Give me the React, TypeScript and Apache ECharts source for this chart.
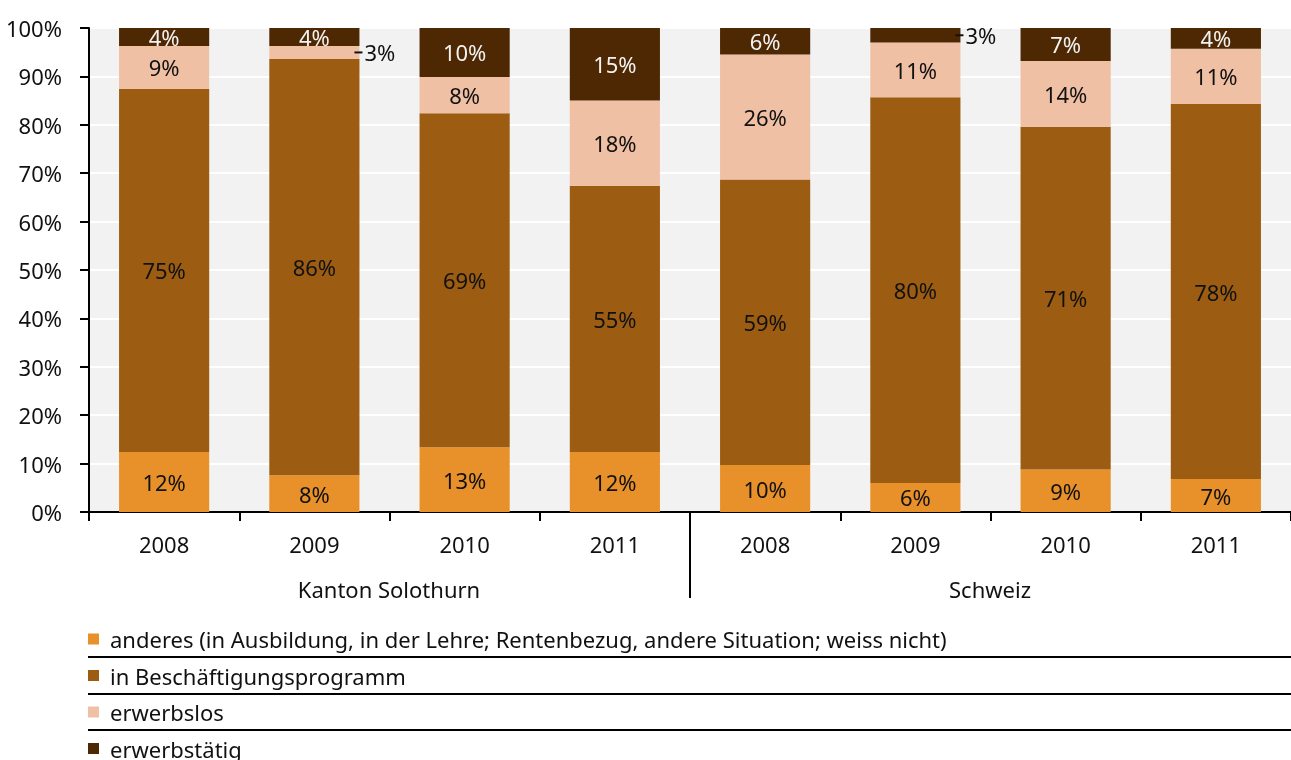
import React, { useEffect, useRef } from "react";
import * as echarts from "echarts";

const categories = ["2008", "2009", "2010", "2011", "2008", "2009", "2010", "2011"];
const groups = ["Kanton Solothurn", "Schweiz"];
const seriesNames = [
  "anderes (in Ausbildung, in der Lehre; Rentenbezug, andere Situation; weiss nicht)",
  "in Beschäftigungsprogramm",
  "erwerbslos",
  "erwerbstätig",
];
const anderes = [12.4, 7.6, 13.4, 12.4, 9.7, 6.0, 8.8, 6.8];
const beschaeftigung = [75.0, 86.0, 69.0, 55.0, 59.0, 79.7, 70.8, 77.5];
const erwerbslos = [8.9, 2.7, 7.5, 17.6, 25.8, 11.3, 13.6, 11.4];
const erwerbstaetig = [3.7, 3.7, 10.1, 15.0, 5.5, 3.0, 6.8, 4.3];
const colors = ["#E8912A", "#9C5D13", "#F0C0A5", "#4E2803"];
const labelColors = ["#111111", "#111111", "#111111", "#F2F2F2"];

const FONT = "Noto Sans";
const FS = 22;

export default function App() {
  const ref = useRef<HTMLDivElement>(null);
  useEffect(() => {
    if (!ref.current) return;
    const chart = echarts.init(ref.current, null, { renderer: "svg" });
    const allValues = [anderes, beschaeftigung, erwerbslos, erwerbstaetig];
    const series = allValues.map((vals, si) => ({
      name: seriesNames[si],
      type: "bar",
      stack: "total",
      barCategoryGap: "40%",
      itemStyle: { color: colors[si] },
      label: {
        show: true,
        position: "inside",
        color: labelColors[si],
        fontFamily: FONT,
        fontSize: FS,
        formatter: (p: any) => Math.round(p.value) + "%",
      },
      data: vals.map((v) =>
        v < 3.2
          ? {
              value: v,
              label: {
                position: "right",
                distance: -5,
                color: "#111111",
                formatter: (p: any) => "{d|}{t|" + Math.round(p.value) + "%}",
                rich: {
                  d: { width: 8, height: 2, backgroundColor: "#111111" },
                  t: { fontFamily: FONT, fontSize: FS, color: "#111111", padding: [0, 0, 0, 2] },
                },
              },
            }
          : v
      ),
    }));
    chart.setOption({
      animation: false,
      color: colors,
      grid: {
        left: 89,
        right: 0,
        top: 28,
        bottom: 248,
        show: true,
        backgroundColor: "#F2F2F2",
        borderWidth: 0,
      },
      legend: {
        orient: "vertical",
        left: 88,
        top: 628,
        height: 160,
        padding: 0,
        itemWidth: 11,
        itemHeight: 11,
        itemGap: 14.5,
        icon: "rect",
        data: seriesNames,
        selectedMode: false,
        textStyle: {
          fontFamily: FONT,
          fontSize: FS,
          lineHeight: 20,
          color: "#111111",
          padding: [0, 0, 0, 6],
        },
      },
      xAxis: {
        type: "category",
        data: categories.map((c, i) => c + "|" + i),
        axisLine: { lineStyle: { color: "#000", width: 2 } },
        axisTick: { show: true, length: 9, interval: 0, lineStyle: { color: "#000", width: 2 } },
        axisLabel: {
          interval: 0,
          margin: 21,
          fontFamily: FONT,
          fontSize: FS,
          color: "#111111",
          formatter: (v: string) => v.split("|")[0],
        },
      },
      yAxis: {
        type: "value",
        min: 0,
        max: 100,
        interval: 10,
        axisLine: { show: true, lineStyle: { color: "#000", width: 2 } },
        axisTick: { show: true, length: 9, lineStyle: { color: "#000", width: 2 } },
        splitLine: { lineStyle: { color: "#FFFFFF", width: 2 } },
        axisLabel: {
          margin: 27,
          fontFamily: FONT,
          fontSize: FS,
          color: "#111111",
          formatter: "{value}%",
        },
      },
      graphic: [
        { type: "line", shape: { x1: 690, y1: 512, x2: 690, y2: 598 }, style: { stroke: "#000", lineWidth: 2 } },
        {
          type: "text",
          x: 389,
          y: 589,
          style: { text: groups[0], fontFamily: FONT, fontSize: FS, fill: "#111111", align: "center", verticalAlign: "middle" },
        },
        {
          type: "text",
          x: 990,
          y: 589,
          style: { text: groups[1], fontFamily: FONT, fontSize: FS, fill: "#111111", align: "center", verticalAlign: "middle" },
        },
        { type: "line", shape: { x1: 88, y1: 657, x2: 1291, y2: 657 }, style: { stroke: "#000", lineWidth: 2 } },
        { type: "line", shape: { x1: 88, y1: 694, x2: 1291, y2: 694 }, style: { stroke: "#000", lineWidth: 2 } },
        { type: "line", shape: { x1: 88, y1: 730, x2: 1291, y2: 730 }, style: { stroke: "#000", lineWidth: 2 } },
      ],
      series,
    });
    return () => chart.dispose();
  }, []);
  return (
    <div
      ref={ref}
      style={{ position: "fixed", left: 0, top: 0, width: 1291, height: 760 }}
    />
  );
}
